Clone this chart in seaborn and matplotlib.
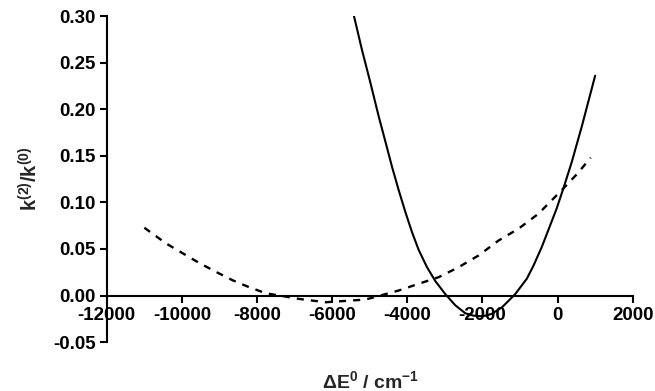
import pandas as pd
import seaborn as sns
import matplotlib
matplotlib.use('Agg')
import matplotlib.pyplot as plt

# values
solid_x = [-5420, -5203, -4980, -4760, -4582, -4406, -4229, -4051, -3875, -3698,
           -3477, -3254, -2988, -2722, -2457, -2250, -2058, -1900, -1749, -1484,
           -1129, -820, -643, -422, -244, -24, 154, 375, 641, 1000]
solid_y = [0.300, 0.263, 0.228, 0.192, 0.165, 0.138, 0.113, 0.0895, 0.068, 0.049,
           0.0305, 0.0155, 0.0015, -0.0105, -0.019, -0.0215, -0.0222, -0.0215, -0.0195, -0.0128,
           0.0015, 0.018, 0.032, 0.052, 0.0705, 0.0935, 0.115, 0.143, 0.181, 0.236]

dash_x = [-11000, -10425, -9984, -9541, -9097, -8656, -8213, -7770, -6884, -6175,
          -5113, -4229, -3698, -3166, -2635, -2104, -1573, -1041, -510, 108, 531, 880]
dash_y = [0.0728, 0.056, 0.0455, 0.035, 0.0255, 0.0165, 0.009, 0.0025, -0.0036, -0.0072,
          -0.0043, 0.0054, 0.0126, 0.0197, 0.0304, 0.043, 0.059, 0.0717, 0.0878, 0.113, 0.131, 0.148]

x_ticks = [-12000, -10000, -8000, -6000, -4000, -2000, 0, 2000]
y_ticks = [-0.05, 0.00, 0.05, 0.10, 0.15, 0.20, 0.25, 0.30]

df_solid = pd.DataFrame({"dE": solid_x, "ratio": solid_y})
df_dash = pd.DataFrame({"dE": dash_x, "ratio": dash_y})

sns.set_style("ticks")
plt.rcParams["font.family"] = ["Liberation Sans", "DejaVu Sans"]
plt.rcParams["font.weight"] = "bold"
plt.rcParams["mathtext.fontset"] = "custom"
plt.rcParams["mathtext.rm"] = "Liberation Sans:bold"
plt.rcParams["mathtext.it"] = "Liberation Sans:bold"
plt.rcParams["mathtext.bf"] = "Liberation Sans:bold"
plt.rcParams["mathtext.default"] = "regular"

fig = plt.figure(figsize=(6.55, 3.91), dpi=100)
ax = fig.add_axes([0.163, 0.125, 0.803, 0.834])

sns.lineplot(data=df_solid, x="dE", y="ratio", ax=ax, color="black",
             linewidth=1.5, sort=False, estimator=None)
sns.lineplot(data=df_dash, x="dE", y="ratio", ax=ax, color="black",
             linewidth=1.7, linestyle=(0, (3, 3)), sort=False, estimator=None)

ax.set_xlim(-12000, 2000)
ax.set_ylim(-0.05, 0.30)
ax.set_xticks(x_ticks)
ax.set_yticks(y_ticks)
ax.set_xticklabels([str(v) for v in x_ticks])
ax.set_yticklabels([f"{v:.2f}" for v in y_ticks])

ax.spines["top"].set_visible(False)
ax.spines["right"].set_visible(False)
ax.spines["bottom"].set_position(("data", 0))
for s in ("left", "bottom"):
    ax.spines[s].set_linewidth(1.5)
    ax.spines[s].set_color("black")

ax.tick_params(axis="both", direction="out", length=5, width=1.5,
               labelsize=13.5, colors="black")
ax.tick_params(axis="x", pad=3)
ax.tick_params(axis="y", pad=3)

ax.set_xlabel("")
ax.set_ylabel(r"k$^{(2)}$/k$^{(0)}$", fontsize=14.5, fontweight="bold", labelpad=8)
fig.text(0.565, 0.026, r"$\Delta$E$^{0}$ / cm$^{-1}$", fontsize=14,
         fontweight="bold", ha="center", va="center")

fig.savefig("out.png", dpi=100)
